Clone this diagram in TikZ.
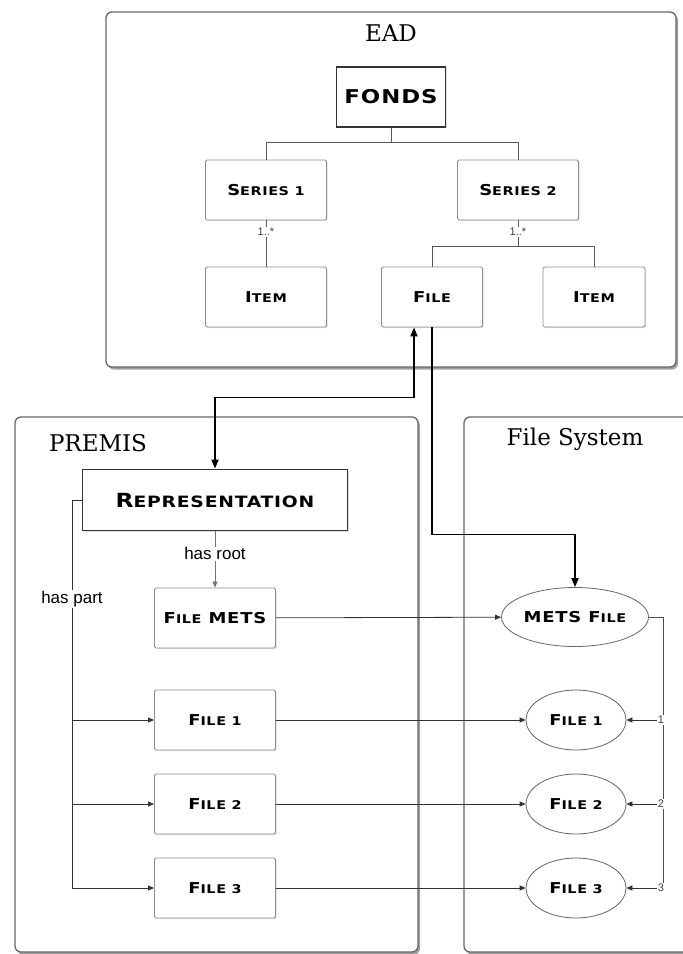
\documentclass[tikz,border=0pt]{standalone}
\usepackage{fontspec}
\setsansfont{Liberation Sans}
\newfontfamily\titlefont{DejaVu Serif}
\newfontfamily\capsfont{DejaVu Sans}[FakeStretch=1.2,LetterSpace=5]
\usetikzlibrary{arrows.meta,shadows,shapes.geometric}

\newcommand{\smc}[2]{#1\scalebox{0.8}{#2}}

\begin{document}
\begin{tikzpicture}[x=1pt, y=-1pt]
        \tikzstyle{panel}=[draw=black!60, line width=1.3pt, rounded corners=6pt, fill=white, drop shadow={shadow xshift=2pt, shadow yshift=-2.5pt, opacity=0.75}]
        \tikzstyle{title}=[font=\titlefont\fontsize{23}{26}\selectfont]
        \tikzstyle{vertex}=[draw=black!45, line width=0.9pt, rounded corners=1.5pt, fill=white, minimum width=121pt, minimum height=60pt, inner sep=2pt, font=\capsfont\bfseries\fontsize{15}{18}\selectfont, drop shadow={shadow xshift=1pt, shadow yshift=-1pt, opacity=0.25}]
        \tikzstyle{root}=[vertex, draw=black!80, line width=1.8pt, rounded corners=0pt]
        \tikzstyle{target}=[ellipse, draw=black!60, line width=0.8pt, fill=white, minimum width=100pt, minimum height=60pt, inner sep=0pt, font=\capsfont\bfseries\fontsize{15}{18}\selectfont]
        \tikzstyle{branch}=[draw=black!65, line width=0.9pt]
        \tikzstyle{link}=[draw=black!80, line width=0.8pt, -{Triangle[length=6pt,width=5pt]}]
        \tikzstyle{heavy}=[draw=black, line width=1.8pt]
        \tikzstyle{tag}=[fill=white, inner sep=1pt, font=\sffamily\fontsize{17}{19}\selectfont]
        \tikzstyle{count}=[fill=white, inner sep=1pt, font=\sffamily\fontsize{11}{12}\selectfont, text=black!75]

        \useasboundingbox (0,0) rectangle (683,954);

        % panels
        \node[panel, minimum width=570pt, minimum height=355pt] (EAD) at (391,189.5) {};
        \node[panel, minimum width=403pt, minimum height=535pt] (PREMIS) at (216.5,684.5) {};
        \node[panel, minimum width=250pt, minimum height=535pt] (FS) at (589,684.5) {};
        \node[title] (EAD_t) at (391,33) {EAD};
        \node[title] (PREMIS_t) at (98,443) {PREMIS};
        \node[title] (FS_t) at (575,439) {File System};

        % EAD tree
        \node[root, minimum width=109pt, font=\capsfont\bfseries\fontsize{19}{22}\selectfont] (E_0) at (391,97) {FONDS};
        \node[vertex] (E_1) at (266,190) {\smc{S}{ERIES 1}};
        \node[vertex] (E_2) at (518,190) {\smc{S}{ERIES 2}};
        \node[vertex] (E_3) at (266,297) {\smc{I}{TEM}};
        \node[vertex, minimum width=101pt] (E_4) at (432,297) {\smc{F}{ILE}};
        \node[vertex, minimum width=102pt] (E_5) at (594,297) {\smc{I}{TEM}};

        \coordinate (J_0) at (391,142);
        \coordinate (J_1) at (518,246);
        \draw[branch] (E_0) -- (J_0) -| (E_1);
        \draw[branch] (J_0) -| (E_2);
        \draw[branch] (E_1) -- (E_3) node[count, pos=0.25] {1..*};
        \draw[branch] (E_2) -- (J_1) node[count, pos=0.45] {1..*} -| (E_4);
        \draw[branch] (J_1) -| (E_5);

        % PREMIS
        \node[root, minimum width=265pt, minimum height=61pt, font=\capsfont\bfseries\fontsize{19.5}{22}\selectfont] (P_0) at (215,500) {\smc{R}{EPRESENTATION}};
        \node[vertex] (P_1) at (215,618) {\smc{F}{ILE} METS};
        \node[vertex] (P_2) at (215,720) {\smc{F}{ILE 1}};
        \node[vertex] (P_3) at (215,804) {\smc{F}{ILE 2}};
        \node[vertex] (P_4) at (215,888) {\smc{F}{ILE 3}};

        % file system
        \node[target, minimum width=147pt, minimum height=59pt] (F_0) at (575,617) {METS \smc{F}{ILE}};
        \node[target] (F_1) at (576,720) {\smc{F}{ILE 1}};
        \node[target] (F_2) at (576,804) {\smc{F}{ILE 2}};
        \node[target] (F_3) at (576,888) {\smc{F}{ILE 3}};

        % links between the three views
        \draw[heavy, {Triangle[length=9pt,width=7pt]}-{Triangle[length=9pt,width=7pt]}] ([xshift=-18pt]E_4.south) -- ++(0,70) -| (P_0.north);
        \draw[heavy, -{Triangle[length=9pt,width=7pt]}] (E_4.south) -- ++(0,207) -| (F_0.north);

        \draw[link, draw=black!55] (P_0) -- (P_1) node[tag, pos=0.4] {has root};
        \coordinate (H) at (72,500);
        \draw[link] (P_0.west) -- (H) |- (P_2);
        \draw[link] (H) |- (P_3);
        \draw[link] (H) |- (P_4);
        \node[tag] (HP) at (72,599) {has part};

        \draw[link] (P_1) -- (F_0);
        \draw[link] (P_2) -- (F_1);
        \draw[link] (P_3) -- (F_2);
        \draw[link] (P_4) -- (F_3);

        \coordinate (R) at (663,617);
        \draw[branch, draw=black!70] (F_0.east) -- (R) -- (663,888);
        \node[count] (N_1) at (661,720) {1};
        \node[count] (N_2) at (661,804) {2};
        \node[count] (N_3) at (661,888) {3};
        \draw[link] (N_1) -- (F_1);
        \draw[link] (N_2) -- (F_2);
        \draw[link] (N_3) -- (F_3);
\end{tikzpicture}
\end{document}
